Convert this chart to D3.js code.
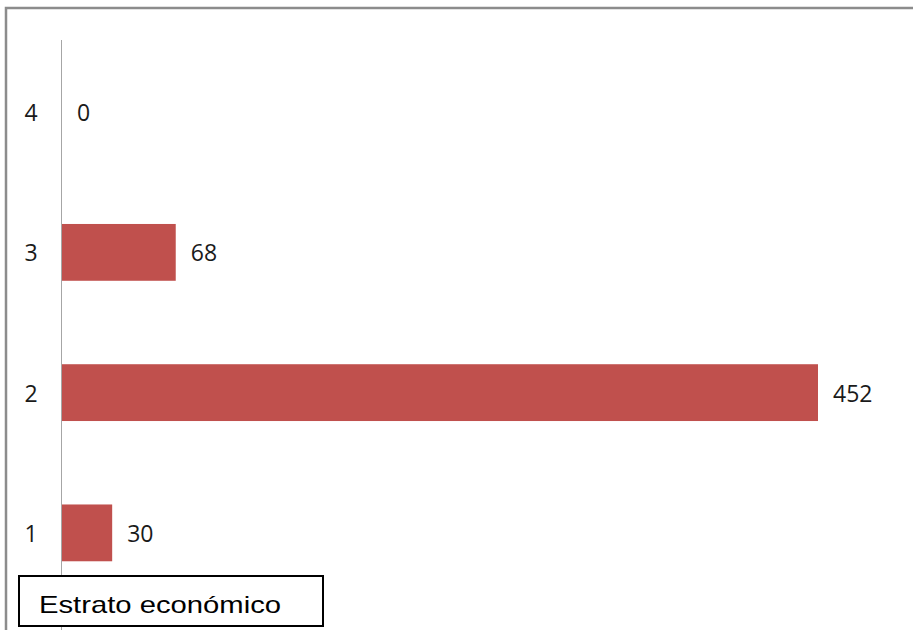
<!DOCTYPE html>
<html>
<head>
<meta charset="utf-8">
<script src="https://cdn.jsdelivr.net/npm/d3@7"></script>
<style>
  html, body { margin: 0; padding: 0; background: #fff; }
  svg { display: block; }
</style>
</head>
<body>
<svg id="chart" width="914" height="630"></svg>
<script>
// Estrato económico: respondents per socio-economic stratum
const categories = ["4", "3", "2", "1"];
const values = [0, 68, 452, 30];
const legendLabel = "Estrato económico";

const svg = d3.select("#chart");
const W = 914, H = 630;

// outer frame (top and left edges visible)
svg.append("path")
  .attr("d", `M6,${H} V8 H913`)
  .attr("fill", "none")
  .attr("stroke", "#8c8c8c")
  .attr("stroke-width", 2.5);

const x0 = 62;
const x = d3.scaleLinear().domain([0, 452]).range([x0, 818]);
const y = d3.scaleBand().domain(categories).range([42, 603]).paddingInner(0.595).paddingOuter(0.2975);

// bars
svg.selectAll("rect.bar")
  .data(categories)
  .join("rect")
  .attr("class", "bar")
  .attr("x", x(0))
  .attr("y", d => y(d))
  .attr("width", (d, i) => x(values[i]) - x(0))
  .attr("height", y.bandwidth())
  .attr("fill", "#C0504D");

// vertical category axis line
svg.append("line")
  .attr("x1", x0 - 0.5).attr("x2", x0 - 0.5)
  .attr("y1", 40).attr("y2", H)
  .attr("stroke", "#a6a6a6")
  .attr("stroke-width", 1);

const font = "'Open Sans', 'Noto Sans', sans-serif";

// category labels
svg.selectAll("text.cat")
  .data(categories)
  .join("text")
  .attr("class", "cat")
  .attr("x", 31)
  .attr("y", d => y(d) + y.bandwidth() / 2 + 1)
  .attr("dy", "0.35em")
  .attr("text-anchor", "middle")
  .attr("font-family", font)
  .attr("font-size", 23)
  .attr("fill", "#1a1a1a")
  .text(d => d);

// value labels
svg.selectAll("text.val")
  .data(categories)
  .join("text")
  .attr("class", "val")
  .attr("x", (d, i) => x(values[i]) + 15)
  .attr("y", d => y(d) + y.bandwidth() / 2 + 1)
  .attr("dy", "0.35em")
  .attr("font-family", font)
  .attr("font-size", 23)
  .attr("fill", "#1a1a1a")
  .text((d, i) => values[i]);

// legend box
const lg = svg.append("g");
lg.append("rect")
  .attr("x", 19).attr("y", 576)
  .attr("width", 304).attr("height", 50)
  .attr("fill", "#fff")
  .attr("stroke", "#000")
  .attr("stroke-width", 2);
lg.append("text")
  .attr("x", 39).attr("y", 613)
  .attr("font-family", "'Liberation Sans', Arial, sans-serif")
  .attr("font-size", 24)
  .attr("textLength", 242)
  .attr("lengthAdjust", "spacingAndGlyphs")
  .attr("fill", "#000")
  .text(legendLabel);
</script>
</body>
</html>
